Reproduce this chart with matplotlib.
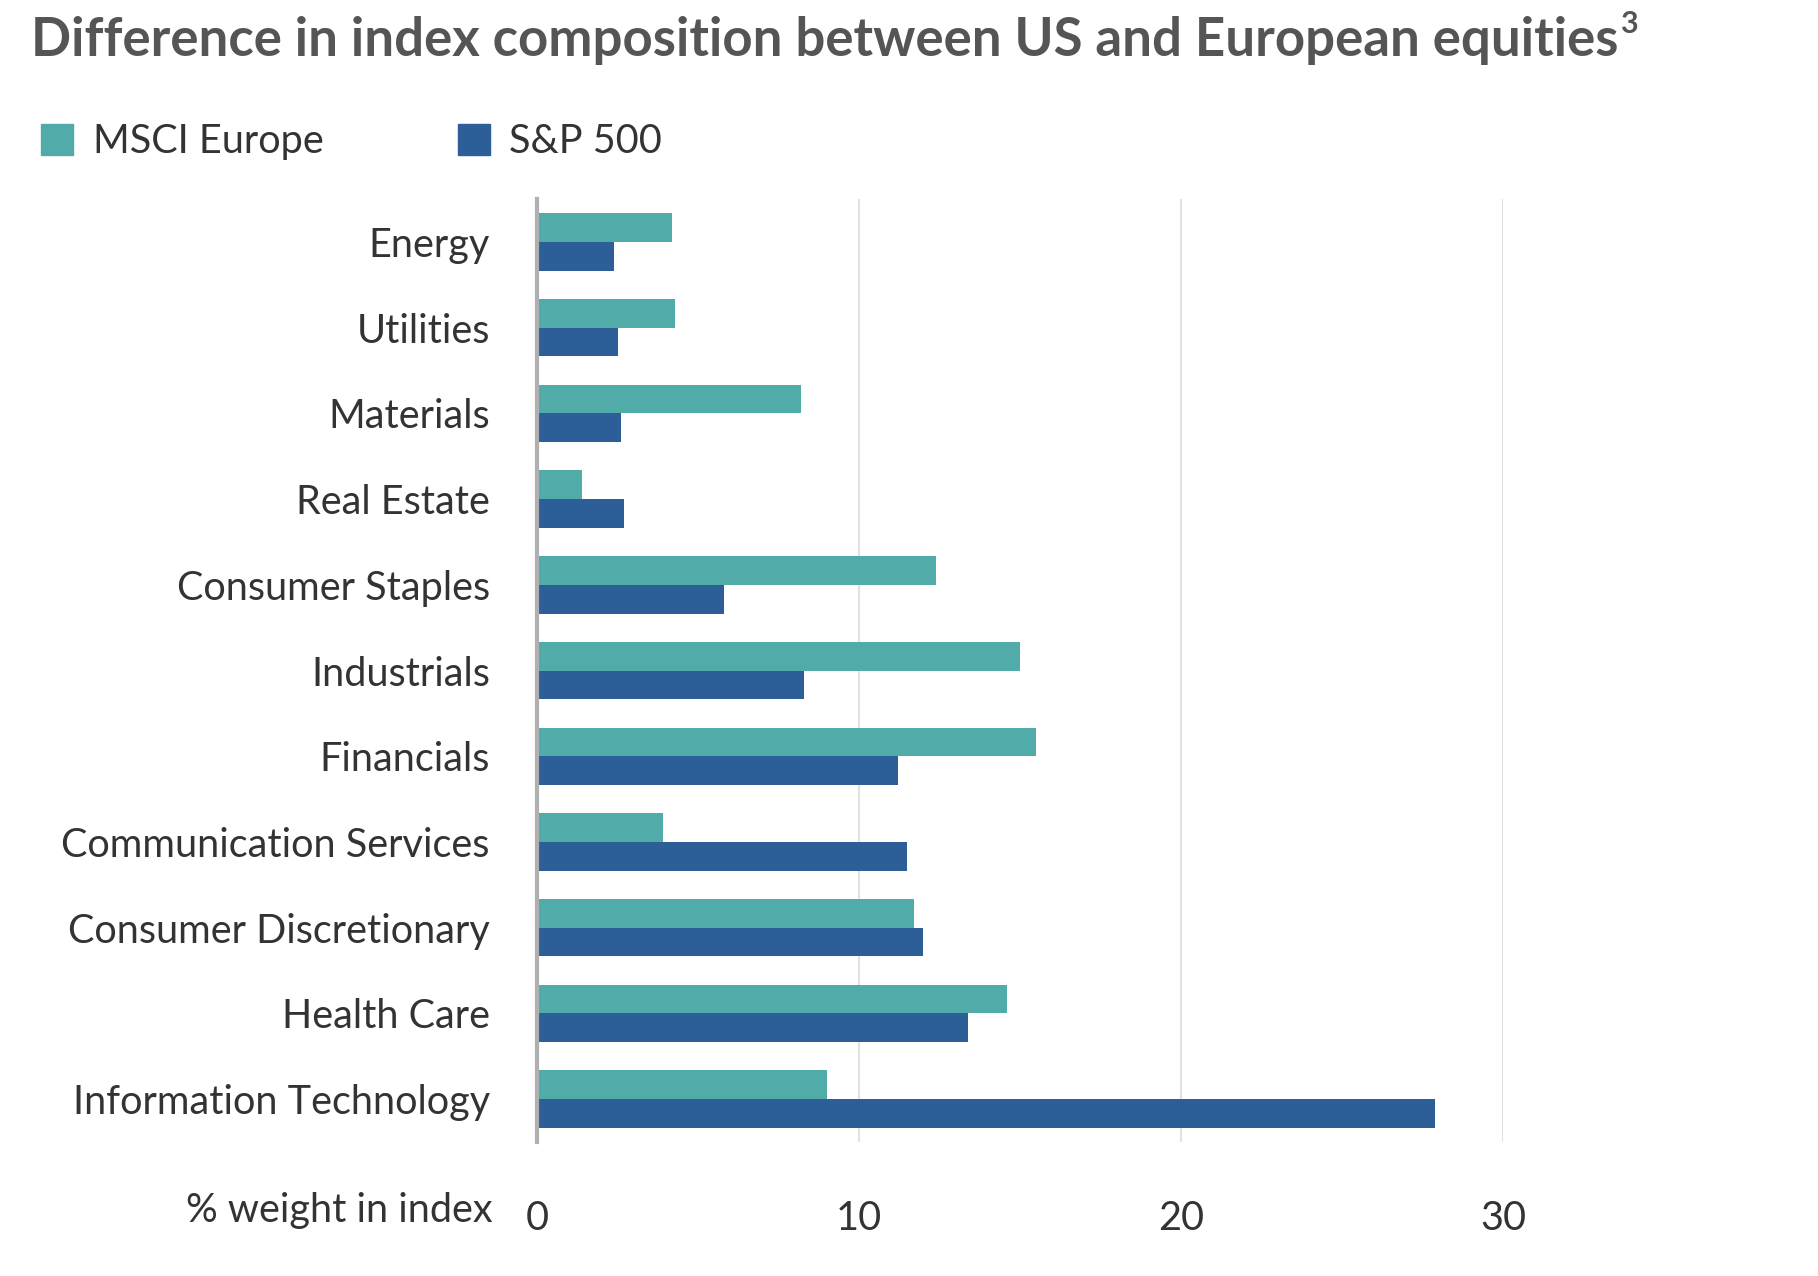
import matplotlib.pyplot as plt
import numpy as np
from matplotlib.patches import Patch

plt.rcParams['font.family'] = ['Lato', 'DejaVu Sans']

sectors = ['Energy', 'Utilities', 'Materials', 'Real Estate', 'Consumer Staples',
           'Industrials', 'Financials', 'Communication Services',
           'Consumer Discretionary', 'Health Care', 'Information Technology']
msci_europe = [4.2, 4.3, 8.2, 1.4, 12.4, 15.0, 15.5, 3.9, 11.7, 14.6, 9.0]
sp500 = [2.4, 2.5, 2.6, 2.7, 5.8, 8.3, 11.2, 11.5, 12.0, 13.4, 27.9]
x_ticks = [0, 10, 20, 30]

teal = '#50aba9'
blue = '#2c5f98'
text_col = '#333333'

fig = plt.figure(figsize=(18.18, 12.76), dpi=100)
ax = fig.add_axes([0.2954, 0.105, 0.5313, 0.739])

y = np.arange(len(sectors))
h = 0.335
ax.barh(y - h / 2, msci_europe, height=h, color=teal, label='MSCI Europe', zorder=3)
ax.barh(y + h / 2, sp500, height=h, color=blue, label='S&P 500', zorder=3)

ax.set_ylim(len(sectors) - 0.5, -0.5)
ax.set_xlim(0, 30)
ax.set_yticks(y)
ax.set_yticklabels(sectors, fontsize=28.5, color=text_col)
ax.set_xticks(x_ticks)
ax.set_xticklabels([str(t) for t in x_ticks], fontsize=28.5, color=text_col)
ax.tick_params(axis='both', length=0)
ax.tick_params(axis='y', pad=34)
ax.tick_params(axis='x', pad=42)
ax.grid(axis='x', color='#e2e2e2', linewidth=1.5, zorder=0)
for s in ['top', 'right', 'bottom']:
    ax.spines[s].set_visible(False)
ax.spines['left'].set_color('#b0b0b0')
ax.spines['left'].set_linewidth(3)
ax.spines['left'].set_zorder(4)

fig.text(0.271, 0.051, '% weight in index', fontsize=28.5, color=text_col,
         ha='right', va='center')

title = fig.text(0.017, 0.968, 'Difference in index composition between US and European equities',
                 fontsize=38, fontweight='bold', color='#555555', ha='left', va='center')
fig.canvas.draw()
bb = title.get_window_extent()
fig.text(bb.x1 / fig.bbox.width + 0.001, 0.981, '3', fontsize=22, fontweight='bold',
         color='#555555', ha='left', va='center')

handles = [Patch(color=teal), Patch(color=blue)]
fig.legend(handles, ['MSCI Europe', 'S&P 500'], loc='center left',
           bbox_to_anchor=(0.003, 0.889), ncol=2, frameon=False, fontsize=28.5,
           handlelength=0.8, handleheight=0.8, handletextpad=0.5,
           columnspacing=3.4, labelcolor=text_col)

fig.savefig('out.png', dpi=100, facecolor='white')
